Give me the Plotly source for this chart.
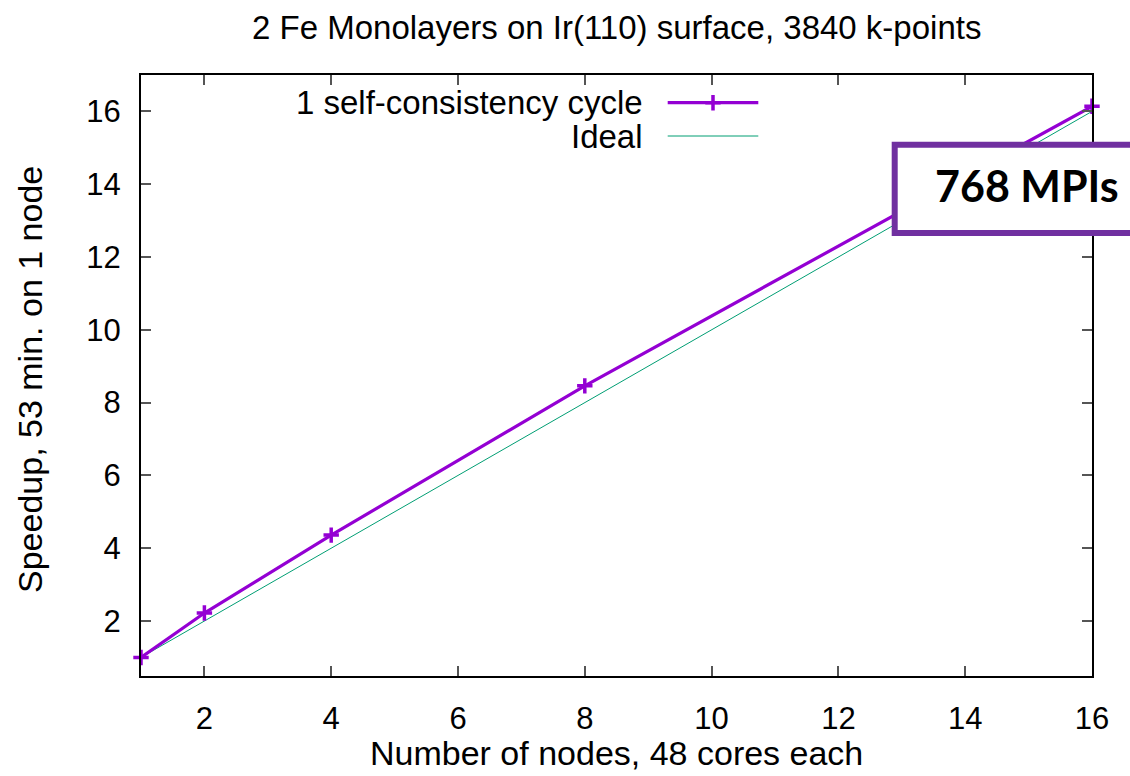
import plotly.graph_objects as go

# Strong-scaling measurement: nodes vs. speedup relative to one node
nodes = [1, 2, 4, 8, 16]
speedup = [1.0, 2.22, 4.36, 8.46, 16.14]
ideal_nodes = [1, 16]
ideal_speedup = [1, 16]

x_ticks = [2, 4, 6, 8, 10, 12, 14, 16]
y_ticks = [2, 4, 6, 8, 10, 12, 14, 16]

title_text = "2 Fe Monolayers on Ir(110) surface, 3840 k-points"
x_title = "Number of nodes, 48 cores each"
y_title = "Speedup, 53 min. on 1 node"
series_names = ["1 self-consistency cycle", "Ideal"]
badge_text = "768 MPIs"

PURPLE = "#9400d3"
TEAL = "#009e73"
BADGE = "#7030a0"
FONT = "Liberation Sans, Arial, sans-serif"

W, H = 1130, 776
L, R, T, B = 141, 38, 75, 100
PW, PH = W - L - R, H - T - B


def px(xp):
    return (xp - L) / PW


def py(yp):
    return (H - B - yp) / PH


fig = go.Figure()

fig.add_trace(go.Scatter(
    x=ideal_nodes, y=ideal_speedup, mode="lines",
    line=dict(color=TEAL, width=1), showlegend=False, cliponaxis=False,
))
fig.add_trace(go.Scatter(
    x=nodes, y=speedup, mode="lines+markers",
    line=dict(color=PURPLE, width=3.2),
    marker=dict(symbol="cross-thin", size=11, line=dict(color=PURPLE, width=3.5)),
    showlegend=False, cliponaxis=False,
))

# gnuplot-style key: text on the left, sample on the right (overlay axis in 0..1 units)
key_y = [py(102.7), py(136)]
key_x0, key_x1, key_xm = px(667.7), px(758.3), px(713)
fig.add_trace(go.Scatter(
    x=[key_x0, key_x1], y=[key_y[0]] * 2, mode="lines", xaxis="x2", yaxis="y2",
    line=dict(color=PURPLE, width=3.2), showlegend=False, hoverinfo="skip",
))
fig.add_trace(go.Scatter(
    x=[key_xm], y=[key_y[0]], mode="markers", xaxis="x2", yaxis="y2",
    marker=dict(symbol="cross-thin", size=11, line=dict(color=PURPLE, width=3.5)),
    showlegend=False, hoverinfo="skip",
))
fig.add_trace(go.Scatter(
    x=[key_x0, key_x1], y=[key_y[1]] * 2, mode="lines", xaxis="x2", yaxis="y2",
    line=dict(color=TEAL, width=1), showlegend=False, hoverinfo="skip",
))

axis_common = dict(
    showgrid=False, zeroline=False, showline=True, linecolor="black", linewidth=2,
    mirror="ticks", ticks="inside", ticklen=10, tickwidth=1.5, tickcolor="#555555",
    tickfont=dict(family=FONT, size=31, color="black"),
)

annotations = [
    dict(text=title_text, x=0.5, y=py(27), xref="paper", yref="paper",
         showarrow=False, xanchor="center", yanchor="middle",
         font=dict(family=FONT, size=33, color="black")),
    dict(text=x_title, x=0.5, y=py(753), xref="paper", yref="paper",
         showarrow=False, xanchor="center", yanchor="middle",
         font=dict(family=FONT, size=34, color="black")),
    dict(text=y_title, x=px(30), y=py(380), xref="paper", yref="paper",
         showarrow=False, xanchor="center", yanchor="middle", textangle=-90,
         font=dict(family=FONT, size=34, color="black")),
    dict(text=series_names[0], x=px(645), y=key_y[0], xref="paper", yref="paper",
         showarrow=False, xanchor="right", yanchor="middle",
         font=dict(family=FONT, size=33, color="black")),
    dict(text=series_names[1], x=px(645), y=key_y[1], xref="paper", yref="paper",
         showarrow=False, xanchor="right", yanchor="middle",
         font=dict(family=FONT, size=33, color="black")),
    dict(text="<b>" + badge_text + "</b>", x=px(1027), y=py(186), xref="paper", yref="paper",
         showarrow=False, xanchor="center", yanchor="middle",
         font=dict(family="Lato, Open Sans, sans-serif", size=43, color="black")),
]

shapes = [
    dict(type="rect", xref="paper", yref="paper", layer="above",
         x0=px(894.7), x1=px(1145), y0=py(233), y1=py(144.7),
         fillcolor="white", line=dict(color=BADGE, width=6)),
]

fig.update_layout(
    width=W, height=H,
    margin=dict(l=L, r=R, t=T, b=B, pad=0),
    paper_bgcolor="white", plot_bgcolor="white",
    xaxis=dict(range=[1, 16], tickvals=x_ticks, ticklabelstandoff=14, **axis_common),
    yaxis=dict(range=[0.49, 17.0], tickvals=y_ticks, ticklabelstandoff=12, **axis_common),
    xaxis2=dict(range=[0, 1], overlaying="x", visible=False, fixedrange=True),
    yaxis2=dict(range=[0, 1], overlaying="y", visible=False, fixedrange=True),
    annotations=annotations,
    shapes=shapes,
    showlegend=False,
)

fig.write_html("out.html")
